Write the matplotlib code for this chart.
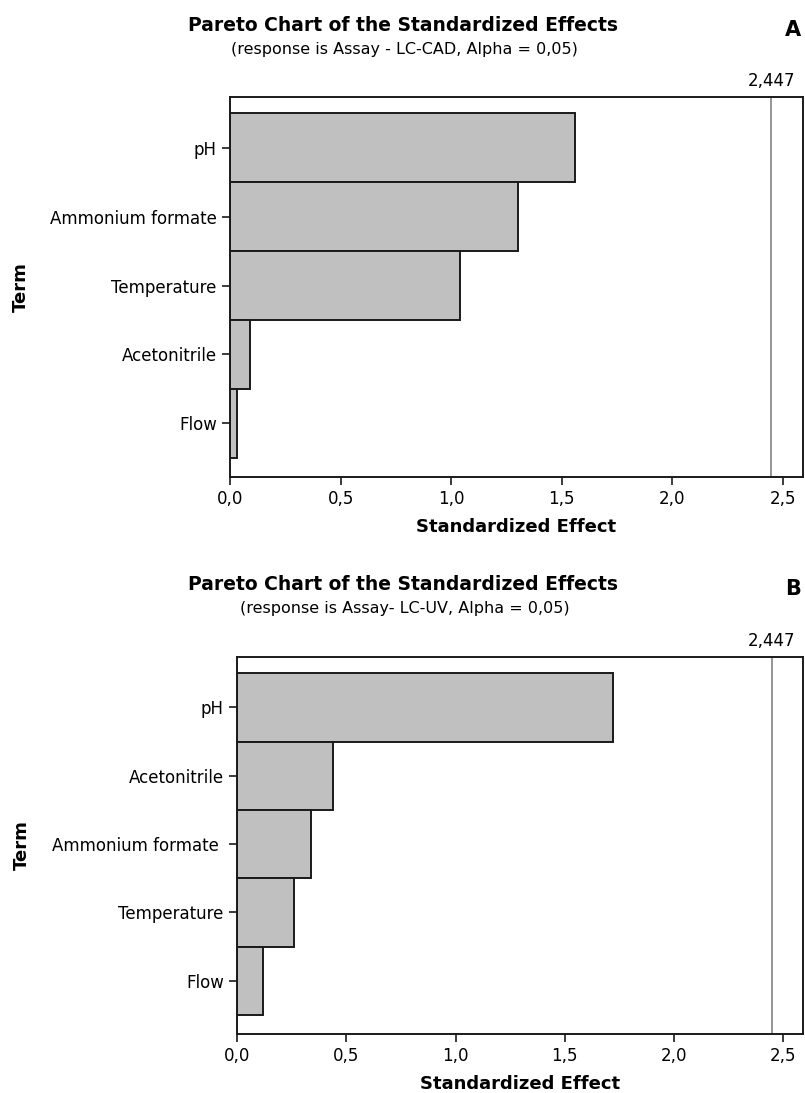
import matplotlib
matplotlib.use("Agg")
import matplotlib.pyplot as plt

plt.rcParams['font.family'] = ['DejaVu Sans']

# panel A: response Assay - LC-CAD
terms_a = ["pH", "Ammonium formate", "Temperature", "Acetonitrile", "Flow"]
effects_a = [1.56, 1.30, 1.04, 0.09, 0.03]

# panel B: response Assay - LC-UV
terms_b = ["pH", "Acetonitrile", "Ammonium formate ", "Temperature", "Flow"]
effects_b = [1.72, 0.44, 0.34, 0.26, 0.12]

alpha_limit = 2.447
xticks = [0.0, 0.5, 1.0, 1.5, 2.0, 2.5]
xtick_labels = ["0,0", "0,5", "1,0", "1,5", "2,0", "2,5"]

fig = plt.figure(figsize=(8.05, 10.93), dpi=100)


def pareto(ax, terms, effects, subtitle, letter, title_y):
    pos = list(range(len(terms)))
    ax.barh(pos, effects, height=1.0, color="#c0c0c0", edgecolor="#1a1a1a",
            linewidth=1.4, align="center")
    ax.axvline(alpha_limit, color="#8c8c8c", linewidth=1.3)
    ax.set_ylim(len(terms) - 1 + 0.78, -0.74)
    ax.set_xlim(0, 2.59)
    ax.set_yticks(pos)
    ax.set_yticklabels(terms, fontsize=12)
    ax.set_xticks(xticks)
    ax.set_xticklabels(xtick_labels, fontsize=12)
    ax.tick_params(direction="out", length=6, width=1.2, color="#1a1a1a")
    for s in ax.spines.values():
        s.set_linewidth(1.4)
        s.set_color("#1a1a1a")
    ax.set_xlabel("Standardized Effect", fontsize=13, fontweight="bold", labelpad=7)
    ax.set_ylabel("Term", fontsize=13, fontweight="bold")
    ax.text(alpha_limit, 1.018, "2,447", transform=ax.get_xaxis_transform(),
            ha="center", va="bottom", fontsize=12)
    fig.text(0.5, title_y, "Pareto Chart of the Standardized Effects",
             ha="center", va="center", fontsize=13.5, fontweight="bold")
    fig.text(0.503, title_y - 0.022, subtitle, ha="center", va="center", fontsize=11.5)
    fig.text(0.985, title_y - 0.004, letter, ha="center", va="center",
             fontsize=15, fontweight="bold")


ax_a = fig.add_axes([0.2857, 0.5636, 0.7118, 0.3477])
pareto(ax_a, terms_a, effects_a, "(response is Assay - LC-CAD, Alpha = 0,05)", "A", 0.977)
ax_a.yaxis.set_label_coords(-0.35, 0.5)

ax_b = fig.add_axes([0.2944, 0.054, 0.7031, 0.345])
pareto(ax_b, terms_b, effects_b, "(response is Assay- LC-UV, Alpha = 0,05)", "B", 0.465)
ax_b.yaxis.set_label_coords(-0.365, 0.5)

fig.savefig("out.png", dpi=100)
